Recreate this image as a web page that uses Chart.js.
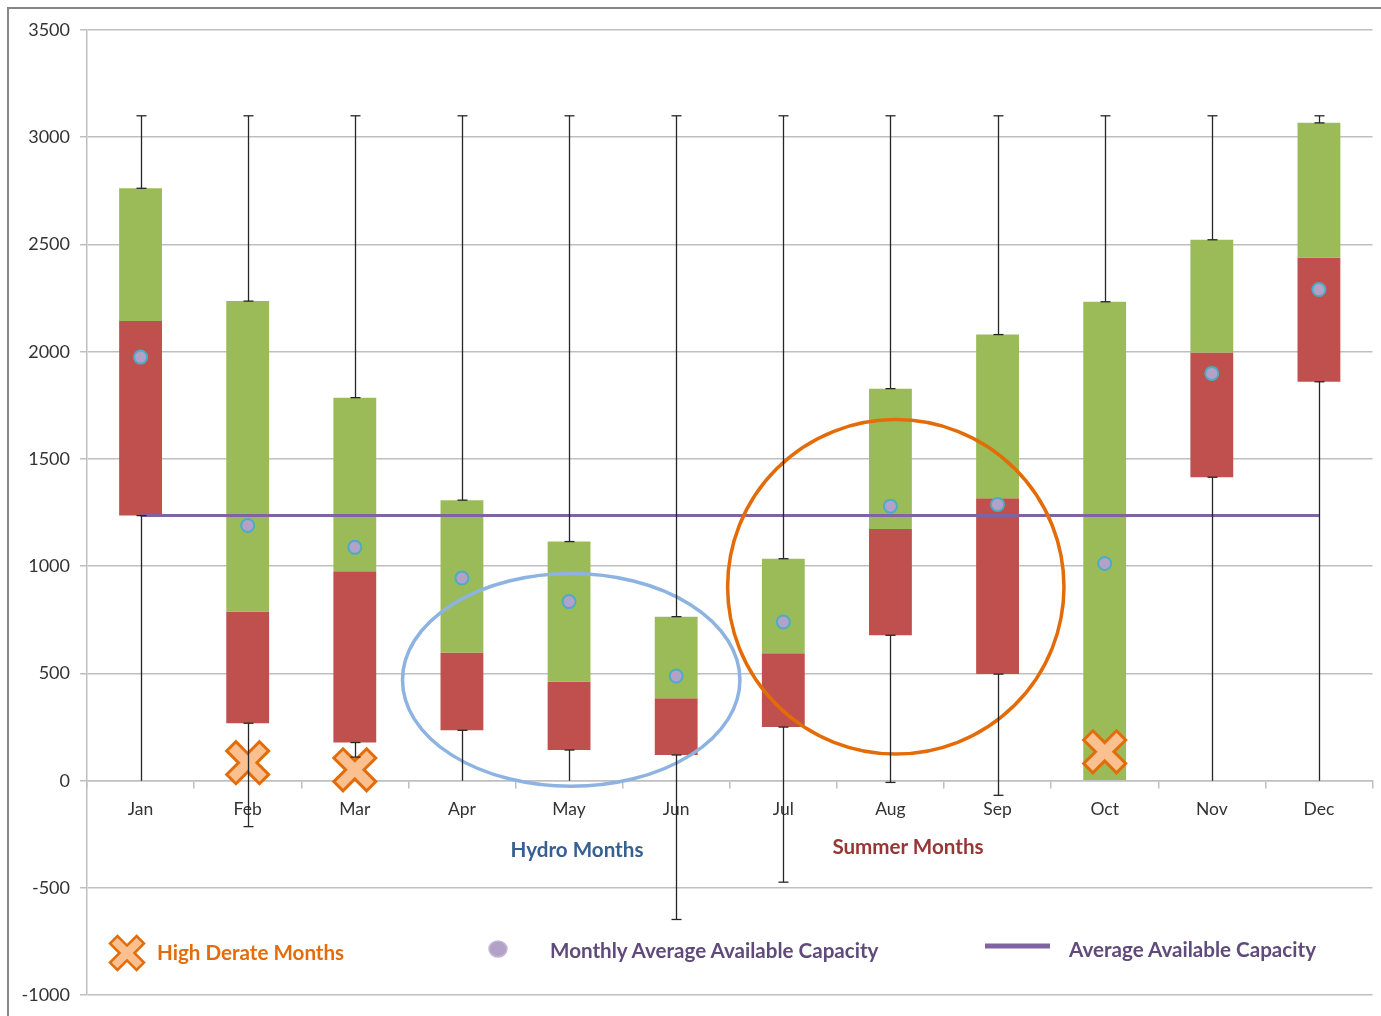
<!DOCTYPE html>
<html><head><meta charset="utf-8">
<script src="https://cdn.jsdelivr.net/npm/chart.js@4.4.0/dist/chart.umd.min.js"></script>
<style>
html,body{margin:0;padding:0;background:#fff;}
#wrap{position:relative;width:1381px;height:1016px;overflow:hidden;background:#fff;}
#frame{position:absolute;left:7px;top:7px;width:1400px;height:1100px;border-left:2px solid #868686;border-top:2px solid #868686;box-sizing:border-box;pointer-events:none;}
canvas{position:absolute;left:0;top:0;}
.lbl{position:absolute;font-family:Lato,'Open Sans',sans-serif;font-weight:700;font-size:20.6px;white-space:nowrap;line-height:1;}
.c{transform:translate(-50%,-50%);}
.l{transform:translate(0,-50%);}
</style></head>
<body><div id="wrap"><canvas id="c" width="1381" height="1016"></canvas><div id="frame"></div>
<div class="lbl c" style="left:577px;top:849px;color:#376092">Hydro Months</div>
<div class="lbl c" style="left:908px;top:846px;color:#953735">Summer Months</div>
<div class="lbl l" style="left:157px;top:952px;color:#e46c0a">High Derate Months</div>
<div class="lbl l" style="left:550px;top:950px;color:#604a7b">Monthly Average Available Capacity</div>
<div class="lbl l" style="left:1069px;top:949px;color:#604a7b">Average Available Capacity</div>
</div>
<script>
// ---- data ----
const months = ['Jan','Feb','Mar','Apr','May','Jun','Jul','Aug','Sep','Oct','Nov','Dec'];
const whiskerMax = [3100,3100,3100,3100,3100,3100,3100,3100,3100,3100,3100,3100];
const whiskerMin = [0,-214,110,0,0,-647,-473,-8,-68,0,0,0];
const redLow   = [1236,268,178,235,143,120,250,678,497,null,1415,1860];
const redHigh  = [2143,789,976,598,463,384,594,1173,1317,null,1997,2439];
const greenLow = [2143,789,976,598,463,384,594,1173,1317,0,1997,2439];
const greenHigh= [2762,2236,1786,1308,1115,765,1035,1828,2080,2233,2522,3067];
const monthlyAvg = [1975,1190,1088,945,835,488,740,1280,1288,1013,1899,2290];
const overallAvg = [1237,1237,1237,1237,1237,1237,1237,1237,1237,1237,1237,1237];
const highDerateMonths = ['Feb','Mar','Oct'];
const highDerateValues = [84,51,135];
const yTicks = [-1000,-500,0,500,1000,1500,2000,2500,3000,3500];

// ---- annotation geometry (data units) ----
const ellipses = [
  {cx:4.02, cy:470, rx:1.575, ry:496, color:'#8db3e2'},
  {cx:7.05, cy:904, rx:1.57, ry:780, color:'#e36c09'}
];

function drawCross(ctx, cx, cy, s, lw){
  const w = s*0.31, L = s*Math.SQRT2 - w;
  const pts = [[-w,-L],[w,-L],[w,-w],[L,-w],[L,w],[w,w],[w,L],[-w,L],[-w,w],[-L,w],[-L,-w],[-w,-w]];
  ctx.save();
  ctx.beginPath();
  pts.forEach((p,i)=>{
    const X = cx + (p[0]-p[1])/Math.SQRT2, Y = cy + (p[0]+p[1])/Math.SQRT2;
    i?ctx.lineTo(X,Y):ctx.moveTo(X,Y);
  });
  ctx.closePath();
  ctx.fillStyle='#fac090'; ctx.fill();
  ctx.lineWidth=lw; ctx.strokeStyle='#e36c09'; ctx.lineJoin='miter'; ctx.stroke();
  ctx.restore();
}

const overlay = {
  id:'overlay',
  afterDatasetsDraw(chart){
    const {ctx, scales:{x,y}} = chart;
    const cw = x.getPixelForValue(1)-x.getPixelForValue(0);
    ellipses.forEach(e=>{
      const px = x.getPixelForValue(e.cx), py = y.getPixelForValue(e.cy);
      const rx = e.rx*cw, ry = Math.abs(y.getPixelForValue(e.cy+e.ry)-py);
      ctx.save(); ctx.beginPath(); ctx.ellipse(px,py,rx,ry,0,0,Math.PI*2);
      ctx.lineWidth=3.5; ctx.strokeStyle=e.color; ctx.stroke(); ctx.restore();
    });
    highDerateMonths.forEach((m,i)=>{
      drawCross(ctx, x.getPixelForValue(months.indexOf(m)), y.getPixelForValue(highDerateValues[i]), 21, 3);
    });
    ctx.save(); ctx.strokeStyle='#262626'; ctx.lineWidth=1.3;
    months.forEach((m,i)=>{
      const px = Math.round(x.getPixelForValue(i))+0.5;
      const top = greenHigh[i];
      const bot = redLow[i]!==null ? redLow[i] : greenLow[i];
      const seg=(a,b)=>{ctx.beginPath();ctx.moveTo(px,y.getPixelForValue(a));ctx.lineTo(px,y.getPixelForValue(b));ctx.stroke();};
      const cap=(v)=>{const py=y.getPixelForValue(v);ctx.beginPath();ctx.moveTo(px-5,py);ctx.lineTo(px+5,py);ctx.stroke();};
      seg(whiskerMax[i], top); cap(whiskerMax[i]); cap(top);
      if (whiskerMin[i] < bot){ seg(bot, whiskerMin[i]); cap(bot); if (whiskerMin[i]!==0) cap(whiskerMin[i]); }
    });
    ctx.restore();
  },
  afterDraw(chart){
    const {ctx} = chart;
    drawCross(ctx, 127, 953, 17, 2.5);
    ctx.save();
    ctx.beginPath(); ctx.ellipse(498,949,9,8,0,0,Math.PI*2);
    ctx.fillStyle='#b3a2c7'; ctx.fill(); ctx.lineWidth=1.5; ctx.strokeStyle='#c3b6d6'; ctx.stroke();
    ctx.beginPath(); ctx.moveTo(985,946); ctx.lineTo(1050,946); ctx.lineWidth=5; ctx.strokeStyle='#8064a2'; ctx.stroke();
    ctx.restore();
  }
};

new Chart(document.getElementById('c'), {
  data:{
    labels: months,
    datasets:[
      {type:'line', label:'Monthly Average Available Capacity', data: monthlyAvg, showLine:false,
       pointRadius:6.5, pointBackgroundColor:'#b3a2c7', pointBorderColor:'#4bacc6', pointBorderWidth:2, order:1},
      {type:'line', label:'Average Available Capacity', data: overallAvg, borderColor:'#8064a2', borderWidth:3,
       pointRadius:0, fill:false, order:2},
      {type:'bar', label:'Upper', data: months.map((m,i)=>[greenLow[i],greenHigh[i]]), backgroundColor:'#9bbb59',
       grouped:false, barPercentage:0.4, categoryPercentage:1, order:3},
      {type:'bar', label:'Lower', data: months.map((m,i)=>redLow[i]===null?null:[redLow[i],redHigh[i]]), backgroundColor:'#c0504d',
       grouped:false, barPercentage:0.4, categoryPercentage:1, order:3}
    ]
  },
  options:{
    responsive:false, animation:false,
    layout:{padding:{left:0,right:6,top:30,bottom:20}},
    plugins:{legend:{display:false}, tooltip:{enabled:false}},
    scales:{
      x:{type:'category', position:{y:0}, offset:true,
         grid:{drawOnChartArea:false, drawTicks:true, tickLength:7, offset:true, color:'#bfbfbf', lineWidth:1.5},
         border:{color:'#bfbfbf', width:1.5},
         ticks:{color:'#333', font:{family:'Lato', size:17.5}, padding:11}},
      y:{min:-1000, max:3500,
         afterBuildTicks(s){ s.ticks = yTicks.map(v=>({value:v})); },
         afterFit(s){ s.width = 87; },
         grid:{color:'#bfbfbf', lineWidth:1.5, tickLength:7},
         border:{color:'#bfbfbf', width:1.5},
         ticks:{color:'#333', font:{family:'Lato', size:18}, padding:10, callback:(v)=>String(v)}}
    }
  },
  plugins:[overlay]
});
</script>
</body></html>
